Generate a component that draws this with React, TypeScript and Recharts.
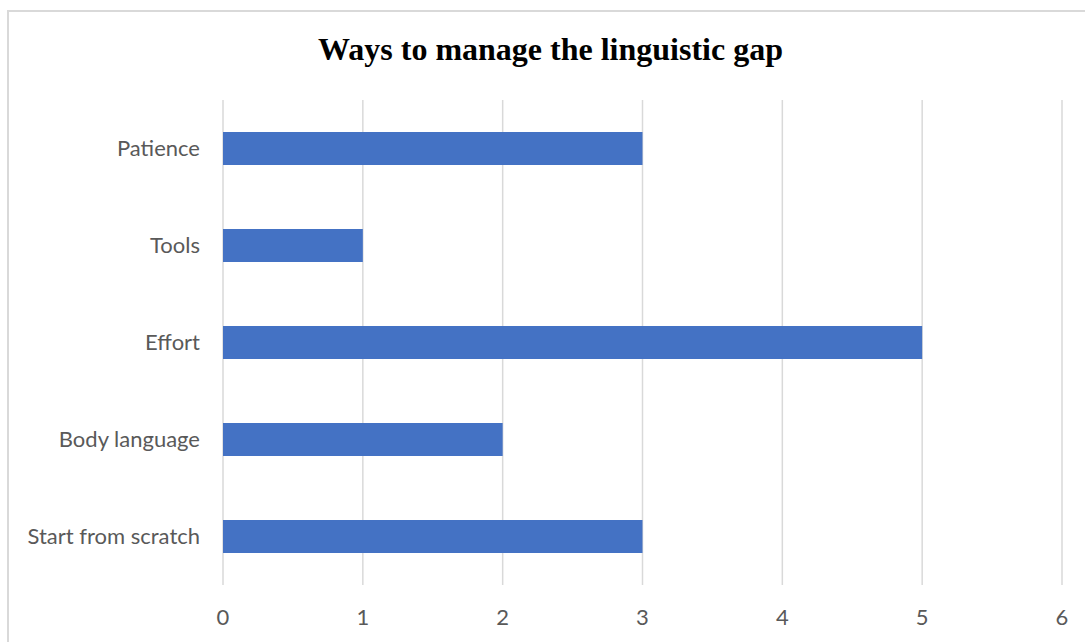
import { BarChart, Bar, XAxis, YAxis, CartesianGrid } from "recharts";

const categories = ["Patience", "Tools", "Effort", "Body language", "Start from scratch"];
const counts = [3, 1, 5, 2, 3];
const xTicks = [0, 1, 2, 3, 4, 5, 6];

const data = categories.map((name, i) => ({ name, value: counts[i] }));

const labelFont = "Lato, 'Open Sans', sans-serif";

export default function App() {
	return (
		<div
			style={{
				position: "absolute",
				left: 0,
				top: 0,
				width: 1085,
				height: 642,
				background: "#fff",
				overflow: "hidden",
			}}
		>
			{/* chart frame */}
			<div
				style={{
					position: "absolute",
					left: 7,
					top: 10,
					width: 1100,
					height: 700,
					border: "2px solid #d9d9d9",
					boxSizing: "border-box",
				}}
			/>
			<div
				style={{
					position: "absolute",
					left: 8,
					width: 1085,
					top: 31,
					textAlign: "center",
					fontFamily: "'Liberation Serif', 'Times New Roman', serif",
					fontWeight: "bold",
					fontSize: 32,
					color: "#000",
				}}
			>
				Ways to manage the linguistic gap
			</div>
			<div style={{ position: "absolute", left: 0, top: 0 }}>
				<BarChart
					width={1085}
					height={642}
					data={data}
					layout="vertical"
					margin={{ top: 100, right: 23, bottom: 0, left: 0 }}
				>
					<CartesianGrid horizontal={false} stroke="#d9d9d9" strokeWidth={1.5} />
					<XAxis
						type="number"
						domain={[0, 6]}
						ticks={xTicks}
						height={57}
						axisLine={false}
						tickLine={false}
						tickMargin={18}
						tick={{ fill: "#595959", fontSize: 22, fontFamily: labelFont }}
					/>
					<YAxis
						type="category"
						dataKey="name"
						width={223}
						axisLine={false}
						tickLine={false}
						tickMargin={17}
						tick={{ fill: "#595959", fontSize: 22, fontFamily: labelFont }}
					/>
					<Bar dataKey="value" fill="#4472C4" barSize={33} isAnimationActive={false} />
				</BarChart>
			</div>
		</div>
	);
}
